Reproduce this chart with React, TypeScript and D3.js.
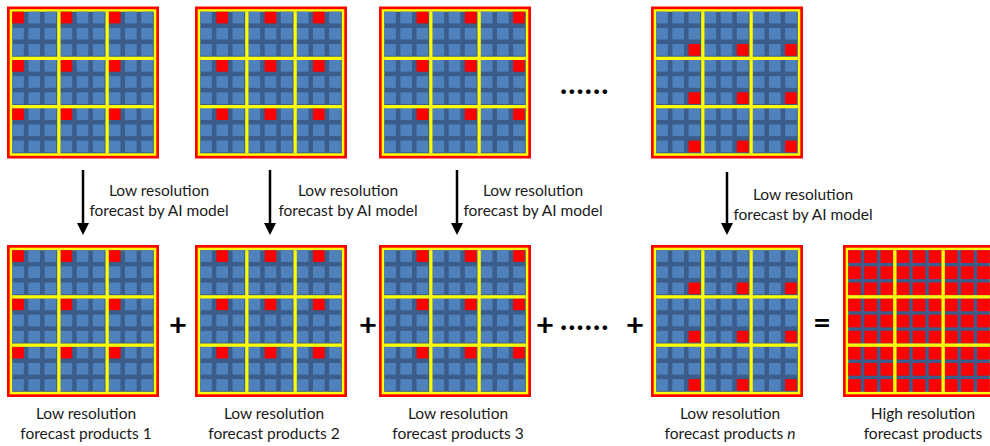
import React from "react";
import * as d3 from "d3";

// ---- data ----
const productRedRow = [0, 0, 0, 2];
const productRedCol = [0, 1, 2, 2];
const productSuffix = ["1", "2", "3", "n"];
const arrowLabel = ["Low resolution", "forecast by AI model"];
const lowLabelTop = "Low resolution";
const lowLabelBottom = "forecast products ";
const highLabel = ["High resolution", "forecast products"];

// ---- layout ----
const W = 990;
const H = 446;
const S = 152;
const gridX = [7, 195, 379, 651];
const highX = 843;
const topY = 6.5;
const bottomY = 245;
const arrowX = [83, 270, 457, 727];
const arrowY1 = [170, 170, 170, 172];
const arrowY2 = 235;
const arrowLabelX = [159, 348, 533, 803];
const arrowLabelY = [196, 196, 196, 200];
const FONT = "Lato, 'Open Sans', sans-serif";

const RED = "#ff0000";
const YELLOW = "#ffff00";
const DARK = "#3b5d8c";
const LIGHT = "#4f81bd";

type GridProps = { x: number; y: number; isRed: (r: number, c: number) => boolean; high?: boolean };

function Grid({ x, y, isRed, high }: GridProps) {
  const frameR = 2.7;
  const frameY = 2.5;
  const inner0 = frameR + frameY;
  const idx = [0, 1, 2];
  const blocks = d3.scaleBand<number>().domain(idx).range([inner0, S - inner0]).paddingInner(0.068);
  const cells = d3
    .scaleBand<number>()
    .domain(idx)
    .range([0, high ? blocks.bandwidth() : blocks.bandwidth() - 1])
    .paddingInner(high ? 0.21 : 0.278);
  const gapW = blocks.step() - blocks.bandwidth();
  const squares: { px: number; py: number; red: boolean; k: string }[] = [];
  idx.forEach((br) =>
    idx.forEach((bc) =>
      idx.forEach((r) =>
        idx.forEach((c) => {
          squares.push({
            px: (blocks(bc) as number) + (cells(c) as number),
            py: (blocks(br) as number) + (cells(r) as number),
            red: isRed(r, c),
            k: `${br}-${bc}-${r}-${c}`,
          });
        })
      )
    )
  );
  return (
    <g transform={`translate(${x},${y})`}>
      <rect x={0} y={0} width={S} height={S} fill={RED} />
      <rect x={frameR} y={frameR} width={S - 2 * frameR} height={S - 2 * frameR} fill={YELLOW} />
      <rect x={inner0} y={inner0} width={S - 2 * inner0} height={S - 2 * inner0} fill={DARK} />
      {squares.map((s) => (
        <rect key={s.k} x={s.px} y={s.py} width={cells.bandwidth()} height={cells.bandwidth()} fill={s.red ? RED : LIGHT} />
      ))}
      {[1, 2].map((i) => (
        <g key={i}>
          <rect x={(blocks(i) as number) - gapW} y={inner0} width={gapW} height={S - 2 * inner0} fill={YELLOW} />
          <rect y={(blocks(i) as number) - gapW} x={inner0} height={gapW} width={S - 2 * inner0} fill={YELLOW} />
        </g>
      ))}
    </g>
  );
}

function Arrow({ x, y1, y2 }: { x: number; y1: number; y2: number }) {
  const hw = 6;
  const hh = 12;
  return (
    <g>
      <line x1={x} x2={x} y1={y1} y2={y2 - hh + 1} stroke="#000" strokeWidth={2.5} />
      <path d={`M${x - hw},${y2 - hh} L${x + hw},${y2 - hh} L${x},${y2} Z`} fill="#000" />
    </g>
  );
}

const textStyle: React.CSSProperties = { fontFamily: FONT, fontSize: 15.5, fill: "#1a1a1a" };
const opStyle: React.CSSProperties = { fontFamily: FONT, fontSize: 31, fontWeight: 400 };
const dotStyle: React.CSSProperties = { fontFamily: FONT, fontSize: 28, fontWeight: 900, letterSpacing: 1.6 };

export default function App() {
  const center = (gx: number) => gx + S / 2 + 3;
  return (
    <svg width={W} height={H} style={{ position: "absolute", left: 0, top: 0, background: "#fff" }}>
      {gridX.map((gx, i) => (
        <Grid key={"t" + i} x={gx} y={topY} isRed={(r, c) => r === productRedRow[i] && c === productRedCol[i]} />
      ))}
      {gridX.map((gx, i) => (
        <Grid key={"b" + i} x={gx} y={bottomY} isRed={(r, c) => r === productRedRow[i] && c === productRedCol[i]} />
      ))}
      <Grid x={highX} y={bottomY} isRed={() => true} high />

      {arrowX.map((ax, i) => (
        <g key={"a" + i}>
          <Arrow x={ax} y1={arrowY1[i]} y2={arrowY2} />
          {arrowLabel.map((t, j) => (
            <text key={j} x={arrowLabelX[i]} y={arrowLabelY[i] + j * 19.5} textAnchor="middle" style={textStyle}>
              {t}
            </text>
          ))}
        </g>
      ))}

      {gridX.map((gx, i) => (
        <g key={"l" + i}>
          <text x={center(gx)} y={419} textAnchor="middle" style={textStyle}>
            {lowLabelTop}
          </text>
          <text x={center(gx)} y={439} textAnchor="middle" style={textStyle}>
            {lowLabelBottom}
            <tspan fontStyle={productSuffix[i] === "n" ? "italic" : "normal"}>{productSuffix[i]}</tspan>
          </text>
        </g>
      ))}
      {highLabel.map((t, j) => (
        <text key={j} x={highX + S / 2 + 4} y={419 + j * 20} textAnchor="middle" style={textStyle}>
          {t}
        </text>
      ))}

      <text x={585} y={94} textAnchor="middle" style={dotStyle}>......</text>
      <text x={178} y={336} textAnchor="middle" style={{ ...opStyle, fontWeight: 700 }}>+</text>
      <text x={368} y={336} textAnchor="middle" style={{ ...opStyle, fontWeight: 700 }}>+</text>
      <text x={545} y={336} textAnchor="middle" style={{ ...opStyle, fontWeight: 700 }}>+</text>
      <text x={585} y={330} textAnchor="middle" style={dotStyle}>......</text>
      <text x={635} y={336} textAnchor="middle" style={{ ...opStyle, fontWeight: 700 }}>+</text>
      <text x={822} y={333} textAnchor="middle" style={{ ...opStyle, fontWeight: 700 }}>=</text>
    </svg>
  );
}
